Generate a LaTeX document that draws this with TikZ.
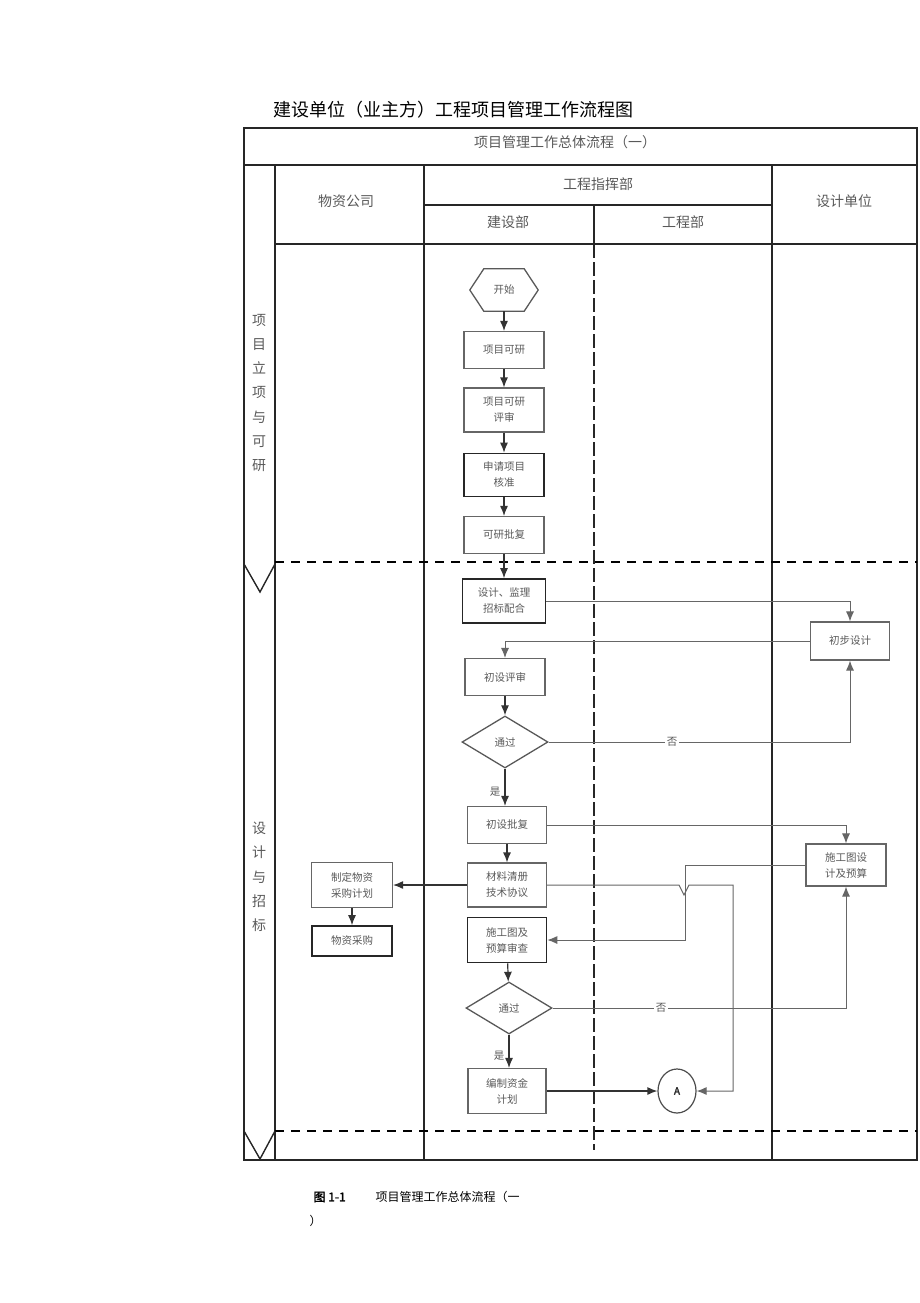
\documentclass[tikz,border=0pt]{standalone}
\usepackage{fontspec}
\setmainfont{Noto Sans CJK SC}[AutoFakeBold=2]
\usepackage{tikz}
\usetikzlibrary{arrows.meta, shapes.geometric}

\begin{document}
\begin{tikzpicture}[x=1pt, y=-1pt,
    every node/.style={text=black!65, font=\fontsize{10.5}{16}\selectfont},
    headtxt/.style={font=\fontsize{14}{16}\selectfont},
    phasetxt/.style={font=\fontsize{14}{24.3}\selectfont, align=center},
    box/.style={draw=black!60, line width=1.1pt, minimum width=80pt, minimum height=37pt, align=center, inner sep=1pt},
    boxd/.style={box, draw=black!85, line width=1.6pt},
    decide/.style={diamond, draw=black!65, line width=1.3pt, minimum width=86pt, minimum height=52pt, inner sep=0pt},
    lane/.style={draw=black!85, line width=1.4pt},
    phasesep/.style={draw=black, line width=1.8pt, dash pattern=on 9pt off 7pt},
    flow/.style={draw=black!80, line width=1.2pt, -{Latex[length=10pt, width=8pt]}},
    link/.style={flow, draw=black!60, line width=1pt},
    lbl/.style={fill=white, inner sep=2pt}
]
    \useasboundingbox (0,0) rectangle (920,1303);

    % Title and caption
    \node[anchor=west, text=black, font=\fontsize{18}{20}\selectfont] (title) at (270,110) {建设单位（业主方）工程项目管理工作流程图};
    \node[anchor=west, text=black, font=\fontsize{12}{14}\selectfont\bfseries] (fig) at (310,1197) {图 1-1};
    \node[anchor=west, text=black, font=\fontsize{12}{14}\selectfont] (cap) at (372,1197) {项目管理工作总体流程（一};
    \node[anchor=west, text=black, font=\fontsize{12}{14}\selectfont] (capb) at (306,1221) {）};

    % Frame and header rows
    \draw[lane, line width=2pt] (244,128) rectangle (917,1160);
    \draw[lane] (244,165) -- (917,165);
    \draw[lane] (424,205) -- (772,205);
    \draw[lane] (275,244) -- (917,244);
    \draw[lane] (275,165) -- (275,1160);
    \draw[lane] (424,165) -- (424,1160);
    \draw[lane] (772,165) -- (772,1160);
    \draw[lane] (594,205) -- (594,244);
    \draw[lane, line width=1.2pt, dash pattern=on 14pt off 4pt] (594,244) -- (594,1150);

    % Phase borders
    \draw[phasesep] (275,562) -- (917,562);
    \draw[phasesep] (275,1131) -- (917,1131);
    \draw[lane] (244,564) -- (260,592) -- (275,564);
    \draw[lane] (244,1131) -- (260,1159) -- (275,1131);

    % Header texts
    \node[headtxt] (hdr) at (565,142) {项目管理工作总体流程（一）};
    \node[headtxt] (wzgs) at (346,201) {物资公司};
    \node[headtxt] (zhb) at (598,184) {工程指挥部};
    \node[headtxt] (jsb) at (508,222) {建设部};
    \node[headtxt] (gcb) at (683,222) {工程部};
    \node[headtxt] (sjdw) at (844,201) {设计单位};
    \node[phasetxt] (ph1) at (259,393) {项\\目\\立\\项\\与\\可\\研};
    \node[phasetxt] (ph2) at (259,877) {设\\计\\与\\招\\标};

    % Step 1: project approval
    \node[minimum width=68pt, minimum height=42pt] (start) at (504,290) {开始};
    \draw[draw=black!65, line width=1.3pt] (start.west) -- ([xshift=14pt]start.north west) -- ([xshift=-14pt]start.north east)
        -- (start.east) -- ([xshift=-14pt]start.south east) -- ([xshift=14pt]start.south west) -- cycle;
    \node[box] (kyan) at (504,350) {项目可研};
    \node[box, minimum height=44pt] (kyps) at (504,410) {项目可研\\评审};
    \node[boxd, minimum height=43pt] (sqhz) at (504,475) {申请项目\\核准};
    \node[box] (kypf) at (504,535) {可研批复};

    % Step 2: design and tendering
    \node[boxd, minimum width=83pt, minimum height=44pt] (sjzb) at (504,601) {设计、监理\\招标配合};
    \node[box, minimum width=79pt, minimum height=38pt] (cbsj) at (850,641) {初步设计};
    \node[box] (cspsh) at (505,677) {初设评审};
    \node[decide] (tg1) at (505,742) {通过};
    \node[box, minimum width=79pt] (cspf) at (507,825) {初设批复};
    \node[box, minimum width=79pt, minimum height=44pt] (clqc) at (507,885) {材料清册\\技术协议};
    \node[box, minimum height=42pt] (sgsj) at (846,865) {施工图设\\计及预算};
    \node[box, minimum width=81pt, minimum height=45pt] (cgjh) at (352,885) {制定物资\\采购计划};
    \node[boxd, minimum width=80pt, minimum height=30pt] (wzcg) at (352,941) {物资采购};
    \node[boxd, minimum width=79pt, minimum height=45pt] (sgsc) at (507,940) {施工图及\\预算审查};
    \node[decide] (tg2) at (509,1008) {通过};
    \node[box, minimum width=78pt, minimum height=45pt] (zjjh) at (507,1091) {编制资金\\计划};
    \node[ellipse, draw=black!70, line width=1.2pt, minimum width=38pt, minimum height=44pt, inner sep=0pt,
        text=black!85, font=\fontsize{10}{11}\selectfont\bfseries] (ptA) at (677,1091) {A};

    % Turning points
    \coordinate (jog) at (685,900);
    \coordinate (hopL) at (679,885);
    \coordinate (hopB) at (684,895);
    \coordinate (hopR) at (689,885);
    \coordinate (turnA) at (733,885);

    % Connectors
    \draw[flow] (start) -- (kyan);
    \draw[flow] (kyan) -- (kyps);
    \draw[flow] (kyps) -- (sqhz);
    \draw[flow] (sqhz) -- (kypf);
    \draw[flow] (kypf) -- (sjzb);
    \draw[link] (sjzb.east) -| (cbsj.north);
    \draw[link] (cbsj.west) -| (cspsh.north);
    \draw[flow] (cspsh) -- (tg1);
    \draw[link] (tg1.east) -- node[lbl, pos=0.41] {否} (tg1.east -| cbsj.south) -- (cbsj.south);
    \draw[flow] (tg1.south) -- node[pos=0.62, left=4pt, inner sep=0pt] {是} (tg1.south |- cspf.north);
    \draw[link] (cspf.east) -| (sgsj.north);
    \draw[flow] (cspf) -- (clqc);
    \draw[flow] (clqc) -- (cgjh);
    \draw[flow] (cgjh) -- (wzcg);
    \draw[link] (sgsj.west) -- (jog |- sgsj.west) -- (jog |- sgsc.east) -- (sgsc.east);
    \draw[link] (clqc.east) -- (hopL) -- (hopB) -- (hopR) -- (turnA) |- (ptA.east);
    \draw[flow] (sgsc) -- (tg2);
    \draw[link] (tg2.east) -- node[lbl, pos=0.37] {否} (tg2.east -| sgsj.south) -- (sgsj.south);
    \draw[flow] (tg2.south) -- node[pos=0.62, left=4pt, inner sep=0pt] {是} (tg2.south |- zjjh.north);
    \draw[flow] (zjjh) -- (ptA);

\end{tikzpicture}
\end{document}
